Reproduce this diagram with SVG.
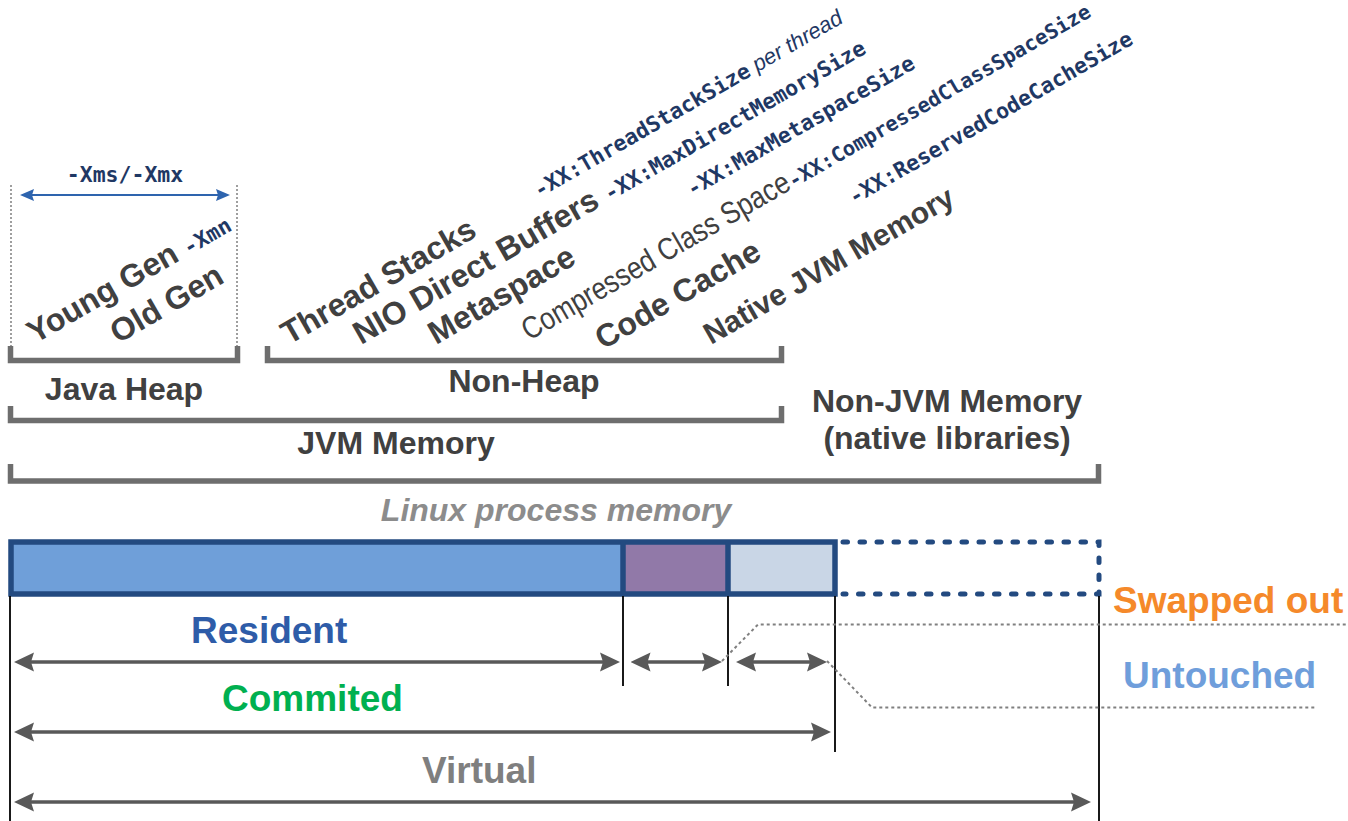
<svg xmlns="http://www.w3.org/2000/svg" width="1348" height="821" viewBox="0 0 1348 821">
  <defs>
    <style>
      .lbl{font-family:"Liberation Sans",Arial,sans-serif;font-weight:bold;fill:#404040}
      .rot{font-size:32px}
      .thin{font-family:"Liberation Sans",Arial,sans-serif;font-weight:normal;fill:#404040;font-size:31px}
      .mono{font-family:"DejaVu Sans Mono","Liberation Mono",monospace;font-weight:bold;fill:#1f3864;font-size:21.5px}
      .note{font-family:"Liberation Sans",Arial,sans-serif;font-style:italic;font-weight:normal;fill:#1f3864;font-size:22px}
      .mid{text-anchor:middle}
      .big{font-size:37px}
      .brk{fill:none;stroke:#6e6e6e;stroke-width:5.5}
      .dim{stroke:#595959;stroke-width:3.5;fill:none;marker-start:url(#ah);marker-end:url(#ah)}
      .tick{stroke:#000;stroke-width:1.8}
      .guide{stroke:#808080;stroke-width:1.5;stroke-dasharray:2 2;fill:none}
      .dots{stroke:#808080;stroke-width:2;stroke-dasharray:3 3;fill:none}
      .seg{stroke:#234a80;stroke-width:5.5}
    </style>
    <marker id="ah" viewBox="0 0 20 20" refX="12" refY="10" markerWidth="20" markerHeight="20" markerUnits="userSpaceOnUse" orient="auto-start-reverse">
      <path d="M0,0.5 L20,10 L0,19.5 L3,10 Z" fill="#595959"/>
    </marker>
    <marker id="ahb" viewBox="0 0 14 12" refX="8" refY="6" markerWidth="14" markerHeight="12" markerUnits="userSpaceOnUse" orient="auto-start-reverse">
      <path d="M0,0 L14,6 L0,12 L2,6 Z" fill="#2e64ae"/>
    </marker>
  </defs>

  <!-- rotated memory-area labels -->
  <g id="young-gen" transform="translate(35,344) rotate(-30)">
    <text class="lbl rot">Young Gen <tspan class="mono">-Xmn</tspan></text>
  </g>
  <g id="old-gen" transform="translate(118,344) rotate(-30)">
    <text class="lbl rot">Old Gen</text>
  </g>
  <g id="thread-stacks" transform="translate(289,345) rotate(-30)">
    <text class="lbl rot">Thread Stacks</text>
    <text class="mono" x="290" y="-2">-XX:ThreadStackSize<tspan class="note"> per thread</tspan></text>
  </g>
  <g id="nio-buffers" transform="translate(361,345) rotate(-30)">
    <text class="lbl rot">NIO Direct Buffers</text>
    <text class="mono" x="287" y="0">-XX:MaxDirectMemorySize</text>
  </g>
  <g id="metaspace" transform="translate(436,345) rotate(-30)">
    <text class="lbl rot">Metaspace</text>
    <text class="mono" x="296" y="0">-XX:MaxMetaspaceSize</text>
  </g>
  <g id="class-space" transform="translate(529,341) rotate(-30)">
    <text class="thin" transform="scale(0.85,1)">Compressed Class Space</text>
    <text class="mono" x="305" y="0" style="font-size:20.5px">-XX:CompressedClassSpaceSize</text>
  </g>
  <g id="code-cache" transform="translate(603,350) rotate(-30)">
    <text class="lbl rot">Code Cache</text>
    <text class="mono" x="290" y="0">-XX:ReservedCodeCacheSize</text>
  </g>
  <g id="native-jvm" transform="translate(711,345) rotate(-30)">
    <text class="lbl" style="font-size:30px">Native JVM Memory</text>
  </g>

  <!-- heap size guide -->
  <g id="heap-size">
    <line class="guide" x1="11" y1="185" x2="11" y2="346"/>
    <line class="guide" x1="237" y1="185" x2="237" y2="346"/>
    <line x1="26" y1="195" x2="224" y2="195" stroke="#2e64ae" stroke-width="2" marker-start="url(#ahb)" marker-end="url(#ahb)"/>
    <text class="mono mid" x="125" y="182">-Xms/-Xmx</text>
  </g>

  <!-- grouping brackets -->
  <g id="java-heap">
    <path class="brk" d="M10.5,346 V360.5 H237.5 V346"/>
    <text class="lbl mid" x="124" y="400" style="font-size:32px">Java Heap</text>
  </g>
  <g id="non-heap">
    <path class="brk" d="M267.5,346 V360.5 H781.5 V346"/>
    <text class="lbl mid" x="524" y="392" style="font-size:32px">Non-Heap</text>
  </g>
  <g id="jvm-memory">
    <path class="brk" d="M10.5,406 V420.5 H781.5 V406"/>
    <text class="lbl mid" x="396" y="454" style="font-size:32px">JVM Memory</text>
  </g>
  <g id="non-jvm-memory">
    <text class="lbl mid" x="947" y="412" style="font-size:32px">Non-JVM Memory</text>
    <text class="lbl mid" x="947" y="449" style="font-size:32px">(native libraries)</text>
  </g>
  <g id="process-memory">
    <path class="brk" d="M10.5,464 V481 H1098.5 V464"/>
    <text class="lbl mid" x="556" y="521" style="font-size:32px;font-style:italic;fill:#8c8c8c">Linux process memory</text>
  </g>

  <!-- memory bar -->
  <g id="memory-bar">
    <rect x="11" y="542" width="612" height="52" fill="#6f9fd9"/>
    <rect x="623" y="542" width="105" height="52" fill="#9179a8"/>
    <rect x="728" y="542" width="107" height="52" fill="#c9d6e6"/>
    <rect x="11" y="542" width="824" height="52" fill="none" stroke="#234a80" stroke-width="5.5"/>
    <line class="seg" x1="623" y1="542" x2="623" y2="594" stroke-width="4.5"/>
    <line class="seg" x1="728" y1="542" x2="728" y2="594" stroke-width="4.5"/>
    <path d="M843,542 H1099 V594 H843" fill="none" stroke="#234a80" stroke-width="5" stroke-linecap="round" stroke-dasharray="4.5 12.5"/>
  </g>

  <!-- measurement lines and arrows -->
  <g id="connectors">
    <line class="tick" x1="10" y1="596" x2="10" y2="821"/>
    <line class="tick" x1="623" y1="596" x2="623" y2="686"/>
    <line class="tick" x1="728" y1="596" x2="728" y2="686"/>
    <line class="tick" x1="835" y1="596" x2="835" y2="752"/>
    <line class="tick" x1="1099" y1="596" x2="1099" y2="821"/>
    <line class="dim" x1="22" y1="662" x2="612" y2="662"/>
    <line class="dim" x1="638.5" y1="662" x2="714" y2="662"/>
    <line class="dim" x1="744" y1="662" x2="819" y2="662"/>
    <line class="dim" x1="22" y1="732" x2="823" y2="732"/>
    <line class="dim" x1="22" y1="802" x2="1083" y2="802"/>
    <path class="dots" d="M722,661 L758,624.5 H1348"/>
    <path class="dots" d="M827,661 L872,707.5 H1317"/>
  </g>

  <!-- size labels -->
  <g id="resident"><text class="lbl big" x="191" y="643" style="fill:#2e5ca8">Resident</text></g>
  <g id="commited"><text class="lbl big" x="222" y="711" style="fill:#00b050">Commited</text></g>
  <g id="virtual"><text class="lbl big" x="422" y="783" style="fill:#7f7f7f">Virtual</text></g>
  <g id="swapped-out"><text class="lbl big" x="1113" y="613" style="fill:#f5892a">Swapped out</text></g>
  <g id="untouched"><text class="lbl big" x="1123" y="688" style="fill:#6f9edb">Untouched</text></g>
</svg>
